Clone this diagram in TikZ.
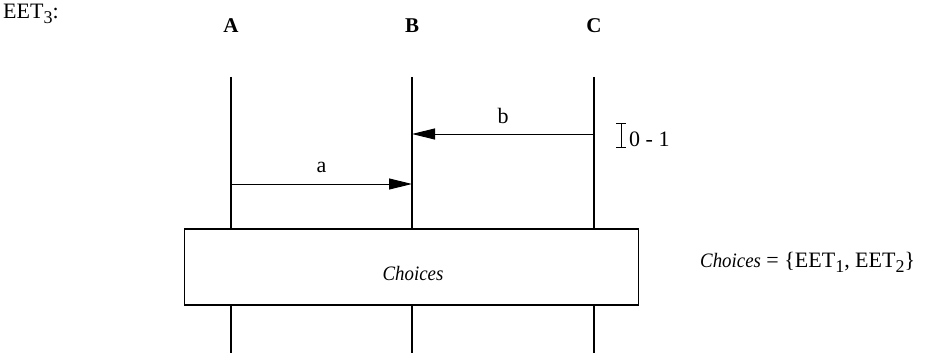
\documentclass[tikz,border=0pt]{standalone}
\usepackage{fontspec}
\setmainfont{Liberation Serif}
\newfontfamily\choicesfont{Liberation Serif}[FakeStretch=0.92]
\usetikzlibrary{arrows.meta}
\tikzstyle{txt}=[inner sep=0pt, font=\fontsize{22}{26}\selectfont]
\tikzstyle{inst}=[txt, font=\fontsize{21}{25}\selectfont\bfseries]
\tikzstyle{lifeline}=[line width=2pt]
\tikzstyle{msg}=[line width=1pt, -{Triangle[length=23pt,width=11pt]}]
\newcommand{\inst}{\node[inst, anchor=base]}
\newcommand{\eetsub}[1]{\raisebox{-5pt}{\fontsize{18}{21}\selectfont #1}}
\newcommand{\choices}{{\fontsize{20.5}{24}\choicesfont\itshape Choices}}

\begin{document}
\begin{tikzpicture}[x=1pt, y=-1pt]
\useasboundingbox (0,0) rectangle (929,353);
\node[txt, anchor=base west] (name) at (3,19) {EET\eetsub{3}:};
\inst (A) at (231,33) {A};
\inst (B) at (412,33) {B};
\inst (C) at (594,33) {C};
% lifelines
\coordinate (At) at (231,77);
\coordinate (Bt) at (412,77);
\coordinate (Ct) at (594,77);
\node[draw, line width=1.4pt, minimum width=454pt, minimum height=76pt,
      inner sep=0pt] (box) at (411.5,267) {};
\node[txt, anchor=base] (boxtext) at (413,280) {\choices};
\coordinate (Ab) at (231,353);
\coordinate (Bb) at (412,353);
\coordinate (Cb) at (594,353);
\draw[lifeline] (At) -- (At |- box.north);
\draw[lifeline] (Bt) -- (Bt |- box.north);
\draw[lifeline] (Ct) -- (Ct |- box.north);
\draw[lifeline] (Ab |- box.south) -- (Ab);
\draw[lifeline] (Bb |- box.south) -- (Bb);
\draw[lifeline] (Cb |- box.south) -- (Cb);
% messages
\coordinate (a1) at (231,184);
\coordinate (a2) at (412,184);
\coordinate (b1) at (594,134);
\coordinate (b2) at (412,134);
\draw[msg] (a1) -- node[txt, anchor=base, yshift=12pt] {a} (a2);
\draw[msg] (b1) -- node[txt, anchor=base, yshift=11pt] {b} (b2);
% interval
\coordinate (it) at (621,123);
\coordinate (ib) at (621,147);
\draw[line width=1pt] (it) -- (ib)
  ([xshift=-5pt]it) -- ([xshift=5pt]it)
  ([xshift=-5pt]ib) -- ([xshift=5pt]ib);
\node[txt, anchor=base west] (interval) at (629,146) {0 - 1};
\node[txt, anchor=base west] (set) at (700,267)
  {\choices{} = \{EET\eetsub{1}, EET\eetsub{2}\}};
\end{tikzpicture}
\end{document}
